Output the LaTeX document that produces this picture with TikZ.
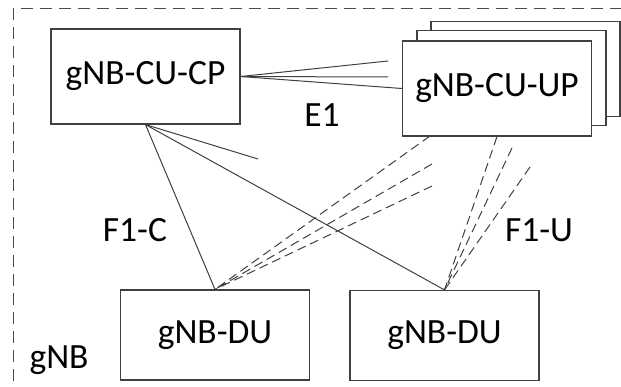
\documentclass[tikz,border=0pt]{standalone}
\usepackage{fontspec}
\setmainfont{Carlito}

\begin{document}
\begin{tikzpicture}[x=1pt, y=-1pt,
    box/.style={shape=rectangle, draw=black!75, line width=1.2pt, fill=white, inner sep=0pt,
                minimum width=189pt, minimum height=95pt, font=\fontsize{35.5}{40}\selectfont},
    lbl/.style={font=\fontsize{35.5}{40}\selectfont},
    cline/.style={draw=black!75, line width=1pt},
    uline/.style={draw=black!75, line width=1pt, dash pattern=on 9pt off 5pt}]
\useasboundingbox (0,0) rectangle (621,387);

% gNB border (runs off the page on the right and bottom)
\draw[black!70, line width=1pt, dash pattern=on 12pt off 7pt] (13,400) -- (13,9) -- (640,9);

% central units
\node[box] (cucp) at (145.5,76.5) {gNB-CU-CP};
\node[box] (cuup3) at (525.5,69) {};
\node[box] (cuup2) at (511.5,78) {};
\node[box] (cuup) at (497,88.5) {gNB-CU-UP};

% distributed units
\node[box, minimum height=90pt] (du1) at (215,335) {gNB-DU};
\node[box, minimum height=90pt] (du2) at (444.5,335.5) {gNB-DU};

% free ends
\coordinate (e1a) at (388,61);
\coordinate (e1b) at (388,77);
\coordinate (f1c) at (258,159);
\coordinate (ua1) at (430,136);
\coordinate (ua2) at (432,164);
\coordinate (ua3) at (432,186);
\coordinate (ub2) at (512,148);
\coordinate (ub3) at (530,167);

% E1
\draw[cline] (cucp.east) -- (e1a);
\draw[cline] (cucp.east) -- (e1b);
\draw[cline] (cucp.east) -- (cuup.west);

% F1-C
\draw[cline] (cucp.south) -- (du1.north);
\draw[cline] (cucp.south) -- (du2.north);
\draw[cline] (cucp.south) -- (f1c);

% F1-U
\foreach \u in {ua1,ua2,ua3}
    \draw[uline] (\u) -- (du1.north);
\foreach \u in {cuup.south,ub2,ub3}
    \draw[uline] (\u) -- (du2.north);

\node[lbl] (e1) at (322,115) {E1};
\node[lbl] (f1cl) at (135,230) {F1-C};
\node[lbl] (f1ul) at (539,230) {F1-U};
\node[lbl] (gnb) at (59,360) {gNB};
\end{tikzpicture}
\end{document}
